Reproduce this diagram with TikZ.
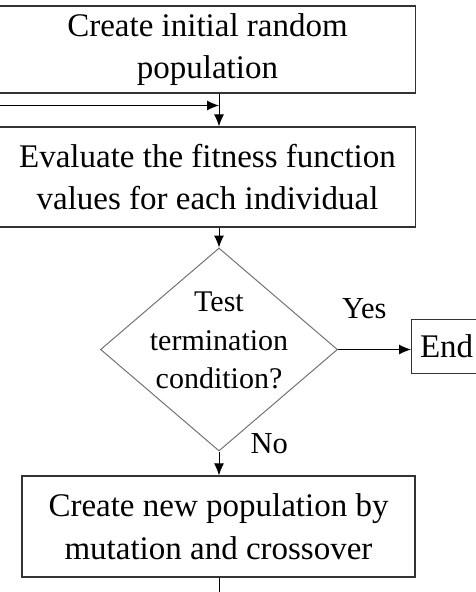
\documentclass[tikz,border=0pt]{standalone}
\usepackage{fontspec}
\setmainfont{Liberation Serif}
\usetikzlibrary{arrows.meta,shapes.geometric}

\begin{document}
\begin{tikzpicture}
    % 坐标以pt为单位, y轴向下
    [x=1pt, y=-1pt,
    proc_box/.style={draw=black!80, line width=1.2pt, rectangle, align=center, inner sep=0pt, font=\fontsize{33}{42.5}\selectfont},
    cond_diamond/.style={draw=black!55, line width=1pt, diamond, inner sep=0pt},
    cond_text/.style={align=center, inner sep=0pt, font=\fontsize{30}{38.5}\selectfont},
    flow_arrow/.style={-{Latex[length=12pt, width=10pt]}, line width=1pt},
    edge_label/.style={inner sep=0pt, font=\fontsize{30.5}{36}\selectfont}]
    \useasboundingbox (0, 0) rectangle (476, 592);
    % 绘制方框与判断框
    \node[proc_box, minimum width=416pt, minimum height=87pt] (init) at (207.5, 49.5) {Create initial random\\population};
    \node[proc_box, minimum width=416pt, minimum height=100pt] (eval) at (207.5, 177) {Evaluate the fitness function\\values for each individual};
    \node[cond_diamond, minimum width=237pt, minimum height=203pt,
        label={[cond_text, yshift=9pt]center:{Test\\termination\\condition?}}] (test) at (219, 349.5) {};
    \node[proc_box, anchor=west, minimum width=70pt, minimum height=54pt] (done) at (411, 346.3) {End};
    \node[proc_box, minimum width=393pt, minimum height=101pt] (newpop) at (218.5, 526.5) {Create new population by\\mutation and crossover};
    % 绘制连线
    \coordinate (back) at (0, 105.5);
    \coordinate (tail) at (219, 600);
    \draw[flow_arrow] (init.south -| test.north) -- (eval.north -| test.north);
    \draw[flow_arrow] (back) -- (back -| test.north);
    \draw[flow_arrow] (eval.south -| test.north) -- (test.north);
    \draw[flow_arrow] (test.east) -- node[edge_label, pos=0.36, above=30pt] {Yes} (test.east -| done.west);
    \draw[flow_arrow] (test.south) -- node[edge_label, pos=0, anchor=base west, xshift=31pt, yshift=-2pt] {No} (newpop.north -| test.south);
    \draw[line width=1pt] (newpop.south -| tail) -- (tail);
\end{tikzpicture}
\end{document}
